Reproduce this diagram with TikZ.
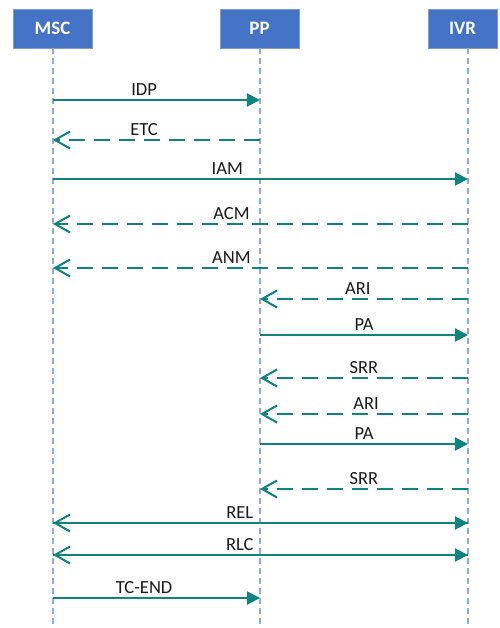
\documentclass[tikz,border=0pt]{standalone}
\usepackage{fontspec}
\setmainfont{Carlito}
\usetikzlibrary{arrows.meta, positioning}
\definecolor{hdrblue}{HTML}{4472C4}
\definecolor{lifeblue}{HTML}{8FAADC}
\definecolor{msgteal}{HTML}{0E847C}
\tikzset{%
	header/.style={
		rectangle,
		fill=hdrblue,
		draw=hdrblue!70!white,
		line width=0.6pt,
		minimum height=39pt,
		text=white,
		font=\fontsize{19}{22}\selectfont\bfseries
	},
	lifeline/.style={
		draw=lifeblue,
		line width=1.6pt,
		dash pattern=on 6pt off 4pt
	},
	call/.style={
		draw=msgteal,
		line width=2pt,
		-{Triangle[length=13pt,width=13pt]}
	},
	reply/.style={
		draw=msgteal,
		line width=2pt,
		dash pattern=on 16pt off 9pt,
		-{Straight Barb[length=15pt,width=17pt]}
	},
	lbl/.style={
		above,
		inner sep=3.5pt,
		text=black!90,
		font=\fontsize{18.5}{21}\selectfont
	},
}
\begin{document}
\begin{tikzpicture}[x=1pt,y=-1pt]
	\useasboundingbox (0,0) rectangle (499,628);
	
	% heads
	\node[header, minimum width=79pt] (msc) at (52.5,28.5) {MSC};
	\node[header, minimum width=79pt] (pp) at (259.5,28.5) {PP};
	\node[header, minimum width=69pt] (ivr) at (462.5,28.5) {IVR};
	
	% lifelines
	\coordinate (mscT) at (53,48);
	\coordinate (ppT) at (260,48);
	\coordinate (ivrT) at (468,48);
	\coordinate (mscB) at (53,628);
	\coordinate (ppB) at (260,628);
	\coordinate (ivrB) at (468,628);
	\draw[lifeline] (mscT) -- (mscB);
	\draw[lifeline] (ppT) -- (ppB);
	\draw[lifeline] (ivrT) -- (ivrB);
	
	% messages
	\draw[call] (mscT |- 0,100) -- node[lbl, pos=0.44] {IDP} (ppT |- 0,100);
	\draw[reply] (ppT |- 0,140) -- node[lbl, pos=0.56] {ETC} (mscT |- 0,140);
	\draw[call] (mscT |- 0,179) -- node[lbl, pos=0.42] {IAM} (ivrT |- 0,179);
	\draw[reply] (ivrT |- 0,224) -- node[lbl, pos=0.57] {ACM} (mscT |- 0,224);
	\draw[reply] (ivrT |- 0,268) -- node[lbl, pos=0.57] {ANM} (mscT |- 0,268);
	\draw[reply] (ivrT |- 0,299) -- node[lbl, pos=0.53] {ARI} (ppT |- 0,299);
	\draw[call] (ppT |- 0,335) -- node[lbl, pos=0.5] {PA} (ivrT |- 0,335);
	\draw[reply] (ivrT |- 0,378) -- node[lbl, pos=0.5] {SRR} (ppT |- 0,378);
	\draw[reply] (ivrT |- 0,414) -- node[lbl, pos=0.49] {ARI} (ppT |- 0,414);
	\draw[call] (ppT |- 0,444) -- node[lbl, pos=0.5] {PA} (ivrT |- 0,444);
	\draw[reply] (ivrT |- 0,489) -- node[lbl, pos=0.5] {SRR} (ppT |- 0,489);
	
	\draw[call] (mscT |- 0,523) -- node[lbl, pos=0.45] {REL} (ivrT |- 0,523);
	\draw[reply] (ivrT |- 0,523) -- (mscT |- 0,523);
	\draw[call] (mscT |- 0,555) -- node[lbl, pos=0.45] {RLC} (ivrT |- 0,555);
	\draw[reply] (ivrT |- 0,555) -- (mscT |- 0,555);
	
	\draw[call] (mscT |- 0,598) -- node[lbl, pos=0.44] {TC-END} (ppT |- 0,598);
\end{tikzpicture}
\end{document}
